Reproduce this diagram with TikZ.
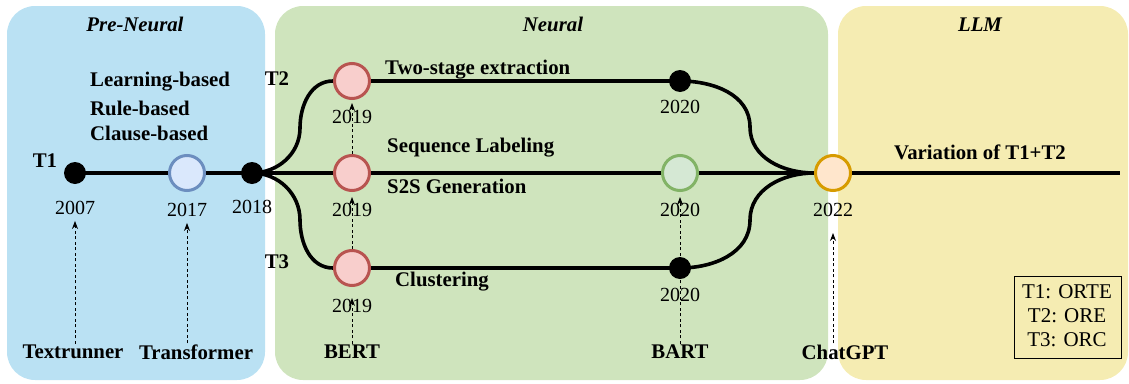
\documentclass[tikz,border=0pt]{standalone}
\usepackage{fontspec}
\setmainfont{Liberation Serif}
\usetikzlibrary{arrows.meta}
\pgfdeclarelayer{bg}
\pgfdeclarelayer{lines}
\pgfsetlayers{bg,lines,main}
\definecolor{pblue}{RGB}{186,225,243}
\definecolor{pgreen}{RGB}{207,228,189}
\definecolor{pyellow}{RGB}{245,236,178}
\definecolor{cbluef}{RGB}{218,232,252}
\definecolor{cbluec}{RGB}{108,142,191}
\definecolor{credf}{RGB}{248,206,204}
\definecolor{credc}{RGB}{184,84,80}
\definecolor{cgreenf}{RGB}{213,232,212}
\definecolor{cgreenc}{RGB}{130,179,102}
\definecolor{corgf}{RGB}{255,230,204}
\definecolor{corgc}{RGB}{215,155,0}
\tikzset{
  panel/.style={rounded corners=28pt, draw=none},
  blackdot/.style={circle, fill=black, minimum size=22pt, inner sep=0pt},
  ring/.style={circle, line width=3pt, minimum size=35pt, inner sep=0pt},
  mainline/.style={line width=3.6pt},
  year/.style={font=\fontsize{20}{22}\selectfont, inner sep=1pt},
  legtext/.style={font=\fontsize{21}{23}\selectfont, inner sep=1pt},
  lab/.style={font=\fontsize{20.8}{23}\selectfont\bfseries, inner sep=1pt},
  ttl/.style={font=\fontsize{20.8}{23}\selectfont\bfseries\itshape},
  darrow/.style={dashed, dash pattern=on 3pt off 2.5pt, line width=0.8pt, -{Stealth[length=8pt,width=6pt]}},
}
\begin{document}
\begin{tikzpicture}[x=1pt,y=-1pt]
\useasboundingbox (0,0) rectangle (1129,383);
\begin{pgfonlayer}{bg}
  \fill[pblue, panel] (7,6) rectangle (265,380);
  \fill[pgreen, panel] (275,6) rectangle (828,380);
  \fill[pyellow, panel] (838,6) rectangle (1128,380);
\end{pgfonlayer}
% titles
\node[ttl] (tpre) at (135,24) {Pre-Neural};
\node[ttl] (tneu) at (553,24) {Neural};
\node[ttl] (tllm) at (980,25) {LLM};
% nodes on main line
\node[blackdot] (d2007) at (75,173) {};
\node[ring, fill=cbluef, draw=cbluec] (c2017) at (187,173) {};
\node[blackdot] (d2018) at (252,173) {};
\node[ring, fill=credf, draw=credc] (r1) at (352,81) {};
\node[ring, fill=credf, draw=credc] (r2) at (352,173) {};
\node[ring, fill=credf, draw=credc] (r3) at (352,268) {};
\node[blackdot] (d2020a) at (680,81) {};
\node[ring, fill=cgreenf, draw=cgreenc] (g2020) at (680,173) {};
\node[blackdot] (d2020b) at (680,268) {};
\node[ring, fill=corgf, draw=corgc] (o2022) at (833,173) {};
\coordinate (lineend) at (1120,173);
% year labels
\node[year] (y2007) at (75,208) {2007};
\node[year] (y2017) at (187,210) {2017};
\node[year] (y2018) at (252,207) {2018};
\node[year] (y2019a) at (352,117) {2019};
\node[year] (y2019b) at (352,210) {2019};
\node[year] (y2019c) at (352,306) {2019};
\node[year] (y2020a) at (680,107) {2020};
\node[year] (y2020b) at (680,210) {2020};
\node[year] (y2020c) at (680,295) {2020};
\node[year] (y2022) at (833,210) {2022};
% track labels
\node[lab] (lt1) at (45,161) {T1};
\node[lab] (lt2) at (277,79) {T2};
\node[lab] (lt3) at (277,262) {T3};
\node[lab, anchor=west] (llb) at (89,82) {Learning-based};
\node[lab, anchor=west] (lrb) at (89,108) {Rule-based};
\node[lab, anchor=west] (lcb) at (89,133) {Clause-based};
\node[lab, anchor=west] (ltwo) at (384,70) {Two-stage extraction};
\node[lab, anchor=west] (lseq) at (386,148) {Sequence Labeling};
\node[lab, anchor=west] (ls2s) at (386,186) {S2S Generation};
\node[lab, anchor=west] (lclu) at (394,282) {Clustering};
\node[lab] (lvar) at (980,152) {Variation of T1+T2};
% models
\node[lab] (mtext) at (73,352) {Textrunner};
\node[lab] (mtrans) at (196,352) {Transformer};
\node[lab] (mbert) at (352,352) {BERT};
\node[lab] (mbart) at (680,352) {BART};
\node[lab] (mchat) at (845,352) {ChatGPT};
% legend
\node[draw, line width=0.8pt, inner sep=0pt, minimum width=107pt, minimum height=82pt] (legend) at (1067.5,317) {};
\node[legtext] (leg1) at (1067,292) {T1: ORTE};
\node[legtext] (leg2) at (1067,316) {T2: ORE};
\node[legtext] (leg3) at (1067,340) {T3: ORC};
% lines
\begin{pgfonlayer}{lines}
  \draw[mainline] (d2007.center) -- (c2017) -- (d2018.center) -- (r2) -- (g2020) -- (o2022) -- (lineend);
  \draw[mainline] (d2018.center) to[out=0,in=-90] (300,128) to[out=90,in=180] (r1.west);
  \draw[mainline] (d2018.center) to[out=0,in=90] (300,220) to[out=-90,in=180] (r3.west);
  \draw[mainline] (r1) -- (d2020a.center);
  \draw[mainline] (r3) -- (d2020b.center);
  \draw[mainline] (d2020a.center) to[out=0,in=90] (750,127) to[out=-90,in=180] (o2022.west);
  \draw[mainline] (d2020b.center) to[out=0,in=-90] (750,220) to[out=90,in=180] (o2022.west);
  \draw[darrow] (mbart.north) -- ([yshift=-5pt]g2020.south);
\end{pgfonlayer}
% dashed arrows
\draw[darrow] (mtext.north -| d2007) -- ([yshift=-5pt]y2007.south);
\draw[darrow] (mtrans.north -| c2017) -- ([yshift=-5pt]y2017.south);
\draw[darrow] (mbert.north) -- ([yshift=-11pt]r3.south);
\draw[darrow] (r3.north) -- ([yshift=-5pt]r2.south);
\draw[darrow] (r2.north) -- ([yshift=-3pt]r1.south);
\draw[darrow] (mchat.north -| o2022) -- ([yshift=-41pt]o2022.south);
\end{tikzpicture}
\end{document}
